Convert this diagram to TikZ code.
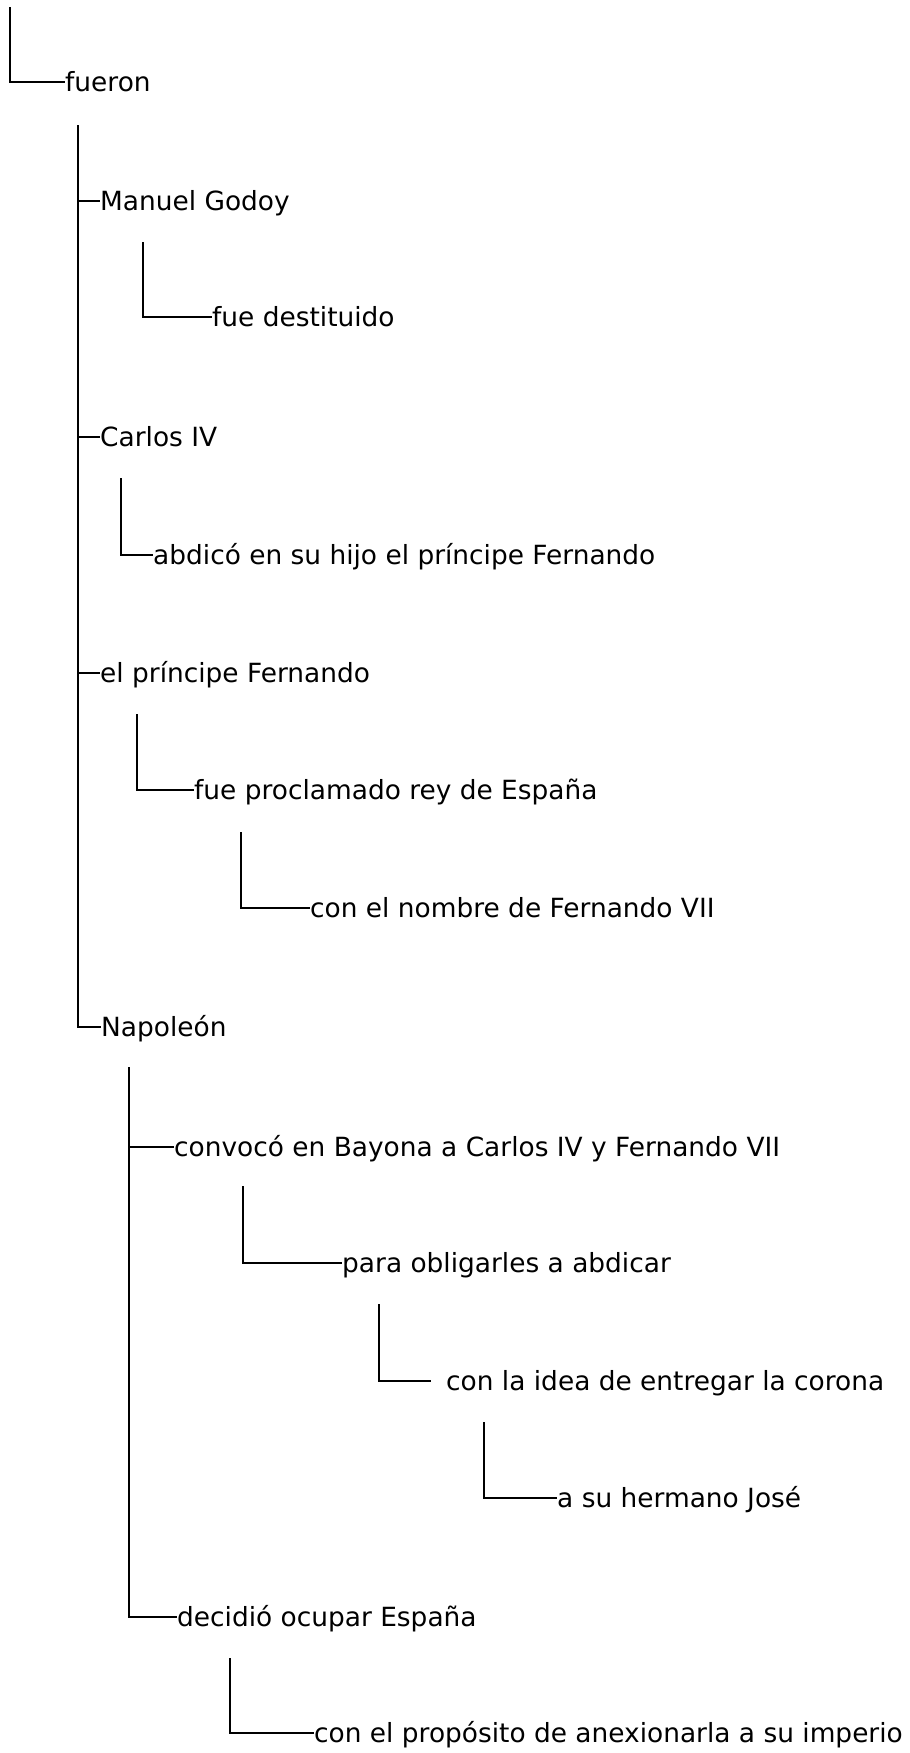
\documentclass[tikz,border=0pt]{standalone}
\usepackage{fontspec}
\setmainfont{DejaVu Sans}
\begin{document}
\begin{tikzpicture}[x=1bp,y=-1bp,
  lbl/.style={anchor=base west, inner sep=0pt, font=\fontsize{26.5}{30}\selectfont},
  conn/.style={line width=2.4bp}]
\useasboundingbox (0,0) rectangle (909,1753);
% nodes (baseline = line height + 9)
\node[lbl] (fueron)   at (65,91)    {fueron};
\node[lbl] (godoy)    at (100,210)  {Manuel Godoy};
\node[lbl] (destit)   at (212,326)  {fue destituido};
\node[lbl] (carlos)   at (100,446)  {Carlos IV};
\node[lbl] (abdico)   at (153,564)  {abdicó en su hijo el príncipe Fernando};
\node[lbl] (principe) at (100,682)  {el príncipe Fernando};
\node[lbl] (proclam)  at (194,799)  {fue proclamado rey de España};
\node[lbl] (nombre)   at (310,917)  {con el nombre de Fernando VII};
\node[lbl] (napoleon) at (101,1036) {Napoleón};
\node[lbl] (convoco)  at (174,1156) {convocó en Bayona a Carlos IV y Fernando VII};
\node[lbl] (obligar)  at (342,1272) {para obligarles a abdicar};
\node[lbl] (idea)     at (446,1390) {con la idea de entregar la corona};
\node[lbl] (jose)     at (557,1507) {a su hermano José};
\node[lbl] (decidio)  at (177,1626) {decidió ocupar España};
\node[lbl] (proposito) at (314,1742) {con el propósito de anexionarla a su imperio};
% connection points at the left of each text
\foreach \n in {fueron,godoy,destit,carlos,abdico,principe,proclam,nombre,napoleon,convoco,obligar,jose,decidio,proposito}
  \coordinate (\n L) at ([yshift=9bp]\n.base west);
\coordinate (ideaL) at ([xshift=-15bp,yshift=9bp]idea.base west);
% top points of vertical lines
\coordinate (t0) at (10,7);
\coordinate (t1) at (78,125);
\coordinate (t2) at (143,242);
\coordinate (t3) at (121,478);
\coordinate (t4) at (137,714);
\coordinate (t5) at (241,832);
\coordinate (t6) at (129,1067);
\coordinate (t7) at (243,1186);
\coordinate (t8) at (379,1304);
\coordinate (t9) at (484,1422);
\coordinate (t10) at (230,1658);
% connectors
\draw[conn] (t0) |- (fueronL);
\draw[conn] (t1) |- (napoleonL);
\draw[conn] (t1 |- godoyL) -- (godoyL);
\draw[conn] (t1 |- carlosL) -- (carlosL);
\draw[conn] (t1 |- principeL) -- (principeL);
\draw[conn] (t2) |- (destitL);
\draw[conn] (t3) |- (abdicoL);
\draw[conn] (t4) |- (proclamL);
\draw[conn] (t5) |- (nombreL);
\draw[conn] (t6) |- (decidioL);
\draw[conn] (t6 |- convocoL) -- (convocoL);
\draw[conn] (t7) |- (obligarL);
\draw[conn] (t8) |- (ideaL);
\draw[conn] (t9) |- (joseL);
\draw[conn] (t10) |- (propositoL);
\end{tikzpicture}
\end{document}
